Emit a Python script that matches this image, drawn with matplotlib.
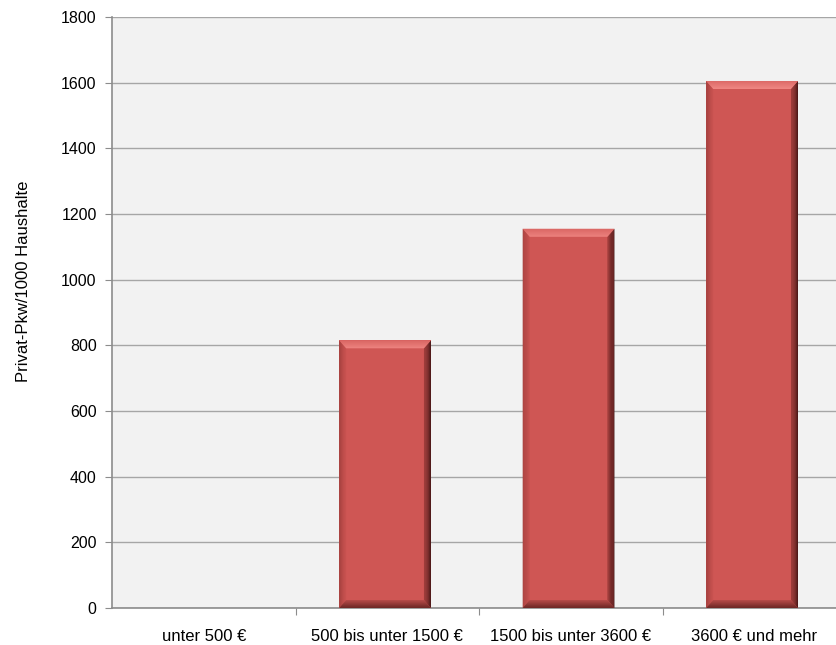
import matplotlib.pyplot as plt
import numpy as np
from matplotlib.patches import Polygon
from matplotlib.colors import to_rgb

# Data
categories = ['unter 500 €', '500 bis unter 1500 €', '1500 bis unter 3600 €', '3600 € und mehr']
values = [0, 815, 1155, 1605]

plt.rcParams['font.family'] = ['Liberation Sans', 'DejaVu Sans']

fig = plt.figure(figsize=(8.37, 6.45), dpi=100)
ax = fig.add_axes([0.1338, 0.0574, 0.877, 0.9163])
ax.set_facecolor('#f2f2f2')

face = '#cf5654'
x = np.arange(len(categories)) - 0.012
width = 0.5
bars = ax.bar(x, values, width=width, color=face, zorder=3)


def bevel(outer, inner, c_out, c_in, z, n=8):
    # outer/inner: two points each, the edge is split into n graded strips
    o, i = np.array(outer), np.array(inner)
    c0, c1 = np.array(to_rgb(c_out)), np.array(to_rgb(c_in))
    for k in range(n):
        t0, t1 = k / n, (k + 1) / n
        a0, a1 = o + (i - o) * t0, o + (i - o) * t1
        col = c0 + (c1 - c0) * (k + 0.5) / n
        ax.add_patch(Polygon([a0[0], a0[1], a1[1], a1[0]], closed=True,
                             color=col, lw=0, zorder=z))


bx = 0.038   # bevel depth in x (data units)
by = 24      # bevel depth in y (data units)
for b in bars:
    h = b.get_height()
    if h <= 0:
        continue
    x0, y0 = b.get_x(), b.get_y()
    x1, y1 = x0 + b.get_width(), y0 + h
    ix0, ix1, iy0, iy1 = x0 + bx, x1 - bx, y0 + by, y1 - by
    bevel([(x0, y0), (x0, y1)], [(ix0, iy0), (ix0, iy1)], '#a03e3c', '#c95250', 4)
    bevel([(x1, y0), (x1, y1)], [(ix1, iy0), (ix1, iy1)], '#3a1010', '#9c3c3a', 4)
    bevel([(x0, y0), (x1, y0)], [(ix0, iy0), (ix1, iy0)], '#6a2624', '#b44a48', 5)
    bevel([(x0, y1), (x1, y1)], [(ix0, iy1), (ix1, iy1)], '#dc6a67', '#f48e8a', 5)

ax.set_xlim(-0.5, len(categories) - 0.5)
ax.set_ylim(0, 1800)
ax.set_yticks(range(0, 1801, 200))
ax.yaxis.grid(True, color='#a6a6a6', lw=1, zorder=0)
ax.set_axisbelow(True)

ax.set_xticks([i + 0.5 for i in range(len(categories) - 1)])
ax.set_xticklabels([])
ax.set_xticks(list(range(len(categories))), minor=True)
ax.set_xticklabels(categories, minor=True, fontsize=12)
ax.tick_params(axis='x', which='minor', length=0, pad=15)
ax.tick_params(axis='x', which='major', length=5, color='#8c8c8c', direction='out')
ax.tick_params(axis='y', length=5, color='#8c8c8c', labelsize=11.5, pad=6)

for s in ['top', 'right']:
    ax.spines[s].set_visible(False)
for s in ['left', 'bottom']:
    ax.spines[s].set_color('#8c8c8c')
    ax.spines[s].set_linewidth(1.2)

ax.set_ylabel('Privat-Pkw/1000 Haushalte', fontsize=12)
ax.yaxis.set_label_coords(-0.111, 0.552)

plt.savefig('out.png', dpi=100)
plt.close()
